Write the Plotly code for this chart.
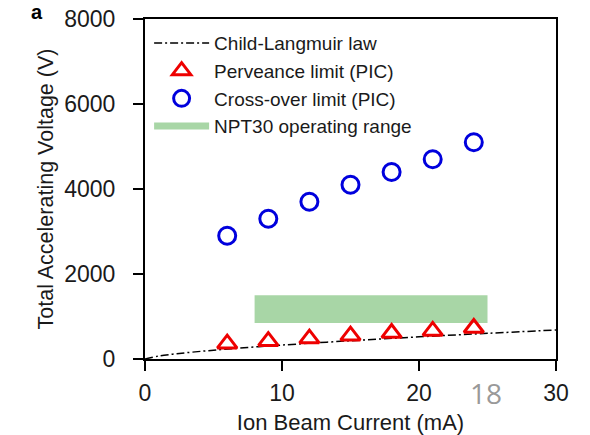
import plotly.graph_objects as go

# Ion beam current (mA) for the PIC runs
beam_current = [6, 9, 12, 15, 18, 21, 24]
# Perveance limit from PIC (V)
perveance_limit = [360, 420, 480, 550, 610, 660, 730]
# Cross-over limit from PIC (V)
crossover_limit = [2900, 3300, 3700, 4100, 4400, 4700, 5100]

# Child-Langmuir curve
cl_current = [0, 1, 2, 3, 5, 7.5, 10, 15, 20, 25, 30]
cl_voltage = [0, 71, 112, 147, 207, 271, 328, 430, 521, 604, 682]

# NPT30 operating window
npt_current = [8, 25]
npt_voltage = [850, 1500]

FONT = "Liberation Sans, Arial, sans-serif"
TEXT = "#1a1a1a"
GREEN = "rgb(168,214,166)"

fig = go.Figure()

# operating range as a filled rectangle
fig.add_trace(go.Scatter(
    x=[npt_current[0], npt_current[1], npt_current[1], npt_current[0], npt_current[0]],
    y=[npt_voltage[0], npt_voltage[0], npt_voltage[1], npt_voltage[1], npt_voltage[0]],
    fill="toself", fillcolor=GREEN, mode="lines", line=dict(width=0, color=GREEN),
    showlegend=False, hoverinfo="skip"))

fig.add_trace(go.Scatter(
    x=cl_current, y=cl_voltage, mode="lines", name="Child-Langmuir law",
    line=dict(color="black", width=1.5, dash="8px,3px,2px,3px", shape="spline")))

fig.add_trace(go.Scatter(
    x=beam_current, y=perveance_limit, mode="markers", name="Perveance limit (PIC)",
    marker=dict(symbol="triangle-up-open", size=17, color="#ee0000",
                line=dict(width=3, color="#ee0000"))))

fig.add_trace(go.Scatter(
    x=beam_current, y=crossover_limit, mode="markers", name="Cross-over limit (PIC)",
    marker=dict(symbol="circle-open", size=17, color="#0000dd",
                line=dict(width=3, color="#0000dd"))))

# legend swatch for the operating range
fig.add_trace(go.Scatter(
    x=[None], y=[None], mode="lines", name="NPT30 operating range",
    line=dict(color=GREEN, width=7)))

axis_common = dict(
    showline=True, linecolor="black", linewidth=2, mirror=True,
    ticks="outside", ticklen=10, tickwidth=2, tickcolor="black",
    showgrid=False, zeroline=False, automargin=False,
    tickfont=dict(family=FONT, size=23, color=TEXT),
)

fig.update_xaxes(range=[0, 30], tickvals=[0, 10, 20, 30],
                 ticklabelstandoff=2,
                 title=dict(text="Ion Beam Current (mA)", font=dict(family=FONT, size=22, color=TEXT), standoff=12),
                 **axis_common)
fig.update_yaxes(range=[0, 8000], tickvals=[0, 2000, 4000, 6000, 8000],
                 ticklabelstandoff=13,
                 title=dict(text="Total Accelerating Voltage (V)", font=dict(family=FONT, size=21.5, color=TEXT), standoff=5),
                 **axis_common)

fig.update_layout(
    width=590, height=435,
    margin=dict(l=145, r=34, t=19, b=76),
    paper_bgcolor="white", plot_bgcolor="white",
    font=dict(family=FONT, color=TEXT),
    legend=dict(x=0.01, y=0.985, xanchor="left", yanchor="top",
                bgcolor="rgba(0,0,0,0)", font=dict(family=FONT, size=19, color=TEXT),
                itemwidth=55, tracegroupgap=0),
    annotations=[
        dict(text="<b>a</b>", x=-0.263, y=1.02, xref="paper", yref="paper", showarrow=False,
             xanchor="center", yanchor="middle",
             font=dict(family=FONT, size=20, color="black")),
        dict(text="18", x=0.83, y=-0.1, xref="paper", yref="paper", showarrow=False,
             xanchor="center", yanchor="middle",
             font=dict(family="Open Sans, sans-serif", size=28, color="#999")),
    ],
)

fig.write_html("out.html")
